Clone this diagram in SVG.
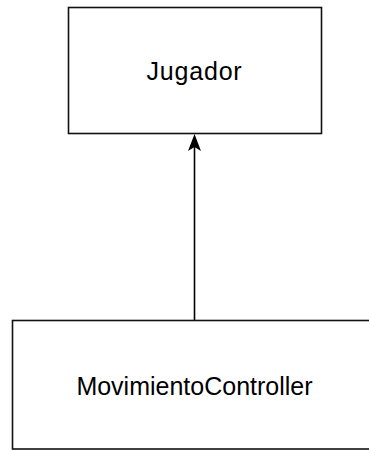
<svg xmlns="http://www.w3.org/2000/svg" width="369" height="450" viewBox="0 0 369 450">
<style>
.box{fill:#fff;stroke:#111;stroke-width:1.6}
.lbl{font-family:"Liberation Sans",Arial,sans-serif;font-size:25px;fill:#000;text-anchor:middle}
.conn{stroke:#000;stroke-width:1.6;fill:none}
</style>
<rect width="369" height="450" fill="#fff"/>
<g id="connectors">
<path class="conn" d="M194.5 320 V146"/>
<path d="M194.5 134 L201 151 L194.5 147 L188 151 Z" fill="#000"/>
</g>
<g id="jugador">
<rect class="box" x="68.5" y="7.5" width="253" height="126"/>
<text class="lbl" x="194.5" y="80" letter-spacing="0.8">Jugador</text>
</g>
<g id="movimientoController">
<rect class="box" x="12.5" y="320.5" width="370" height="128.5"/>
<text class="lbl" x="194.5" y="395">MovimientoController</text>
</g>
</svg>
